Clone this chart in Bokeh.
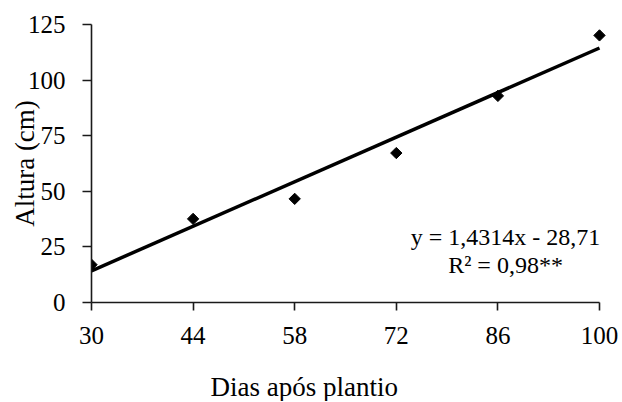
from bokeh.plotting import figure
from bokeh.models import Range1d, FixedTicker, Label, Title
from bokeh.embed import file_html
from bokeh.resources import INLINE

# data
dias = [30, 44, 58, 72, 86, 100]
altura = [17.0, 37.6, 46.6, 67.2, 92.9, 120.1]
x_ticks = [30, 44, 58, 72, 86, 100]
y_ticks = [0, 25, 50, 75, 100, 125]
coef_a = 1.4314
coef_b = -28.71
eq_text = "y = 1,4314x - 28,71"
r2_text = "R\u00b2 = 0,98**"
x_title = "Dias após plantio"
y_title = "Altura (cm)"

FONT = "Liberation Serif"
AFONT = "Times New Roman"
pad = 1.516

p = figure(width=620, height=401,
           x_range=Range1d(x_ticks[0], x_ticks[-1] + pad),
           y_range=Range1d(y_ticks[0], y_ticks[-1]),
           output_backend="svg", toolbar_location=None,
           min_border_left=91, min_border_right=10,
           min_border_top=24, min_border_bottom=98)
p.outline_line_color = None
p.xgrid.visible = False
p.ygrid.visible = False
p.background_fill_color = "white"
p.border_fill_color = "white"

# axes
xa = p.xaxis[0]
xa.ticker = FixedTicker(ticks=x_ticks)
xa.bounds = (x_ticks[0], x_ticks[-1])
xa.major_tick_out = 8
xa.major_tick_in = 0
xa.minor_tick_line_color = None
xa.axis_line_width = 1.6
xa.major_tick_line_width = 1.6
xa.axis_line_color = "#1a1a1a"
xa.major_tick_line_color = "#1a1a1a"
xa.major_label_text_font = AFONT
xa.major_label_text_font_size = "25px"
xa.major_label_text_color = "black"
xa.major_label_standoff = 16
# blank axis label only reserves room so the title sits lower
xa.axis_label = " "
xa.axis_label_text_font_size = "10px"
xa.axis_label_standoff = 9

ya = p.yaxis[0]
ya.ticker = FixedTicker(ticks=y_ticks)
ya.bounds = (y_ticks[0], y_ticks[-1])
ya.major_tick_out = 9
ya.major_tick_in = 0
ya.minor_tick_line_color = None
ya.axis_line_width = 1.6
ya.major_tick_line_width = 1.6
ya.axis_line_color = "#1a1a1a"
ya.major_tick_line_color = "#1a1a1a"
ya.major_label_text_font = AFONT
ya.major_label_text_font_size = "25px"
ya.major_label_text_color = "black"
ya.major_label_standoff = 17
ya.axis_label = y_title
ya.axis_label_text_font = AFONT
ya.axis_label_text_font_size = "27px"
ya.axis_label_text_font_style = "normal"
ya.axis_label_text_color = "black"
ya.axis_label_standoff = -15

# x title
p.add_layout(Title(text=x_title, align="left", offset=119, standoff=0,
                   text_font=AFONT, text_font_size="27px",
                   text_font_style="normal", text_color="black"), "below")

# regression line
lx = [dias[0], dias[-1]]
ly = [coef_a * v + coef_b for v in lx]
p.line(lx, ly, line_color="black", line_width=3.5)

# points
p.scatter(dias, altura, marker="square", size=8, angle=0.785398,
          fill_color="black", line_color="black")

# equation
p.add_layout(Label(x=87.05, y=29.6, text=eq_text, text_font=FONT,
                   text_font_size="24px", text_align="center",
                   text_baseline="middle", text_color="black"))
p.add_layout(Label(x=87.05, y=17.0, text=r2_text, text_font=FONT,
                   text_font_size="24px", text_align="center",
                   text_baseline="middle", text_color="black"))

open("out.html", "w").write(file_html(p, INLINE))
